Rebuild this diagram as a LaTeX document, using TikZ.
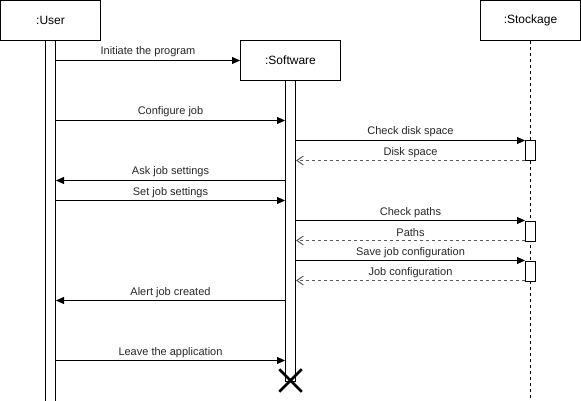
\documentclass[tikz,border=0pt]{standalone}
\usepackage{fontspec}
\setmainfont{Liberation Sans}
\usetikzlibrary{arrows.meta,shapes.misc}

\tikzset{
  actor/.style={draw, line width=1pt, fill=white, minimum width=100pt, minimum height=40pt,
    inner sep=0pt, font=\fontsize{12}{14}\selectfont},
  actbar/.style={draw, line width=1pt, fill=white, minimum width=10pt, inner sep=0pt, anchor=north},
  lifeline/.style={line width=1pt, dash pattern=on 3pt off 3pt},
  msg/.style={line width=1pt, -{Triangle[length=8pt,width=7pt]}},
  ret/.style={line width=1pt, black!65, dash pattern=on 3pt off 3pt,
    -{Straight Barb[length=6.5pt,width=9pt,line width=1pt]}},
  lbl/.style={anchor=base, font=\fontsize{11}{13}\selectfont, text=black!85, inner sep=0pt},
  endmark/.style={cross out, draw, line width=2.5pt, minimum size=20pt, inner sep=0pt}
}

\begin{document}
\begin{tikzpicture}[x=1pt, y=-1pt]
  \useasboundingbox (-0.5,-0.5) rectangle (580.5,400.5);

  % participants
  \node[actor] (user) at (50,20) {:User};
  \node[actor] (stock) at (530,20) {:Stockage};

  % storage lifeline
  \coordinate (stockend) at (530,400);
  \draw[lifeline] (stock.south) -- (stockend);

  % activation bars
  \node[actbar, minimum height=360pt] (ubar) at (50,40) {};
  \node[actbar, minimum height=300pt] (sbar) at (290,80) {};
  \node[actor] (soft) at (290,60) {:Software};
  \node[actbar, minimum height=20pt] (a1) at (530,140) {};
  \node[actbar, minimum height=20pt] (a2) at (530,220) {};
  \node[actbar, minimum height=20pt] (a3) at (530,260) {};

  % end of the software lifeline
  \node[endmark] (stop) at (290,380) {};

  % messages
  \draw[msg] (ubar.east |- 0,60) -- (soft.west |- 0,60);
  \node[lbl] at (147.5,54.5) {Initiate the program};

  \draw[msg] (ubar.east |- 0,120) -- (sbar.west |- 0,120);
  \node[lbl] at (170,114.5) {Configure job};

  \draw[msg] (sbar.east |- 0,140) -- (a1.west |- 0,140);
  \node[lbl] at (410,134.5) {Check disk space};

  \draw[ret] (a1.west |- 0,160) -- (sbar.east |- 0,160);
  \node[lbl] at (410,155) {Disk space};

  \draw[msg] (sbar.west |- 0,180) -- (ubar.east |- 0,180);
  \node[lbl] at (170,174.5) {Ask job settings};

  \draw[msg] (ubar.east |- 0,200) -- (sbar.west |- 0,200);
  \node[lbl] at (170,195) {Set job settings};

  \draw[msg] (sbar.east |- 0,220) -- (a2.west |- 0,220);
  \node[lbl] at (410,215) {Check paths};

  \draw[ret] (a2.west |- 0,240) -- (sbar.east |- 0,240);
  \node[lbl] at (410,235.5) {Paths};

  \draw[msg] (sbar.east |- 0,260) -- (a3.west |- 0,260);
  \node[lbl] at (410,255) {Save job configuration};

  \draw[ret] (a3.west |- 0,280) -- (sbar.east |- 0,280);
  \node[lbl] at (410,275) {Job configuration};

  \draw[msg] (sbar.west |- 0,300) -- (ubar.east |- 0,300);
  \node[lbl] at (170,295) {Alert job created};

  \draw[msg] (ubar.east |- 0,360) -- (sbar.west |- 0,360);
  \node[lbl] at (170,355) {Leave the application};
\end{tikzpicture}
\end{document}
